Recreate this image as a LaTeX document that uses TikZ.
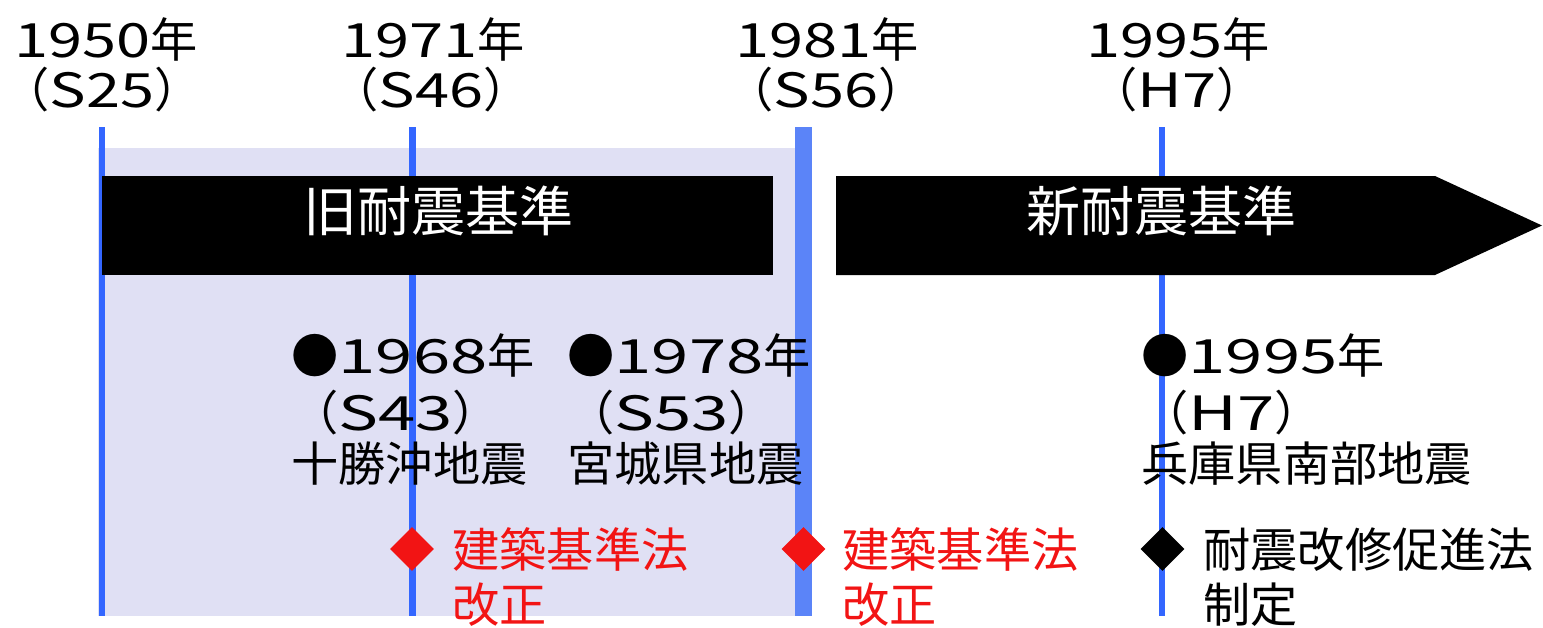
\documentclass[tikz,border=0pt]{standalone}
\usepackage{fontspec}
\setmainfont{Noto Sans CJK JP}
\usetikzlibrary{shapes.geometric}
\definecolor{lav}{HTML}{E0E0F4}
\definecolor{blu}{HTML}{3366FF}
\definecolor{blul}{HTML}{5B84F8}
\definecolor{rd}{HTML}{F21414}
\newcommand{\dg}[1]{\scalebox{1.3}[1]{#1}}
\newcommand{\dgm}[1]{\scalebox{1.42}[1]{#1}}
\begin{document}
\begin{tikzpicture}[x=0.5pt,y=-0.5pt,
  yr/.style={font=\fontsize{23.6}{28}\selectfont, inner sep=0, anchor=base},
  ev/.style={font=\fontsize{23.6}{28}\selectfont, inner sep=0, anchor=base west},
  law/.style={ev, text=rd},
  era/.style={font=\fontsize{27}{32}\selectfont, text=white, inner sep=0},
  vline/.style={fill=blu},
  dia/.style={diamond, inner sep=0, minimum size=22pt}]
\useasboundingbox (0,0) rectangle (1543,627);
% background
\fill[lav] (98,148) rectangle (805,616);
% vertical lines
\fill[vline] (99,127) rectangle (105,616);
\fill[vline] (409,127) rectangle (415.5,616);
\fill[blul] (795,127) rectangle (812,616);
\fill[vline] (1158.5,127) rectangle (1165,616);
% era bars
\fill[black] (101.5,176) rectangle (773,275);
\fill[black] (836,176) -- (1435,176) -- (1542,225.5) -- (1435,275) -- (836,275) -- cycle;
\node[era] (old) at (438,211) {旧耐震基準};
\node[era] (new) at (1161,211) {新耐震基準};
% top labels
\node[yr] (y1950) at (106,57) {\dg{1950}年};
\node[yr] (s25) at (102,107) {（\dg{S25}）};
\node[yr] (y1971) at (433,57) {\dg{1971}年};
\node[yr] (s46) at (431,107) {（\dg{S46}）};
\node[yr] (y1981) at (827,57) {\dg{1981}年};
\node[yr] (s56) at (826,107) {（\dg{S56}）};
\node[yr] (y1995) at (1178,57) {\dg{1995}年};
\node[yr] (h7) at (1177,107) {（\dg{H7}）};
% events
\node[ev] (e1a) at (291,373) {●\dgm{1968}年};
\node[ev] (e1b) at (291,430) {（\dgm{S43}）};
\node[ev] (e1c) at (291,481) {十勝沖地震};
\node[ev] (e2a) at (567,373) {●\dgm{1978}年};
\node[ev] (e2b) at (567,430) {（\dgm{S53}）};
\node[ev] (e2c) at (567,481) {宮城県地震};
\node[ev] (e3a) at (1141,373) {●\dgm{1995}年};
\node[ev] (e3b) at (1141,430) {（\dgm{H7}）};
\node[ev] (e3c) at (1141,481) {兵庫県南部地震};
% laws
\node[dia, fill=rd] (d1) at (412,549) {};
\node[dia, fill=rd] (d2) at (803.5,549) {};
\node[dia, fill=black] (d3) at (1162.5,549) {};
\node[law] (l1a) at (452,567) {建築基準法};
\node[law] (l1b) at (452,622) {改正};
\node[law] (l2a) at (842,567) {建築基準法};
\node[law] (l2b) at (842,622) {改正};
\node[ev] (l3a) at (1203,567) {耐震改修促進法};
\node[ev] (l3b) at (1203,622) {制定};
\end{tikzpicture}
\end{document}
